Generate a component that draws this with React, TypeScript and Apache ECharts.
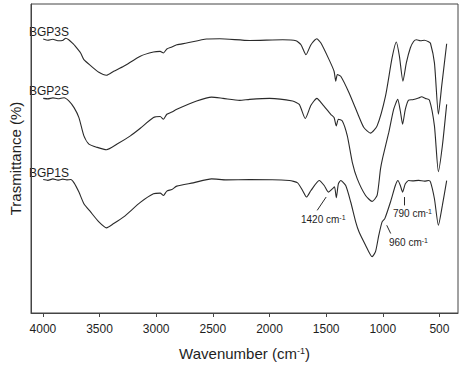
import React, { useEffect, useRef } from "react";
import * as echarts from "echarts";

// Wavenumber ticks (cm-1)
const xTicks = [4000, 3500, 3000, 2500, 2000, 1500, 1000, 500];

// [wavenumber, transmittance (arbitrary, offset)]
const bgp3s: [number, number][] = [
  [3997, 275.7], [3956, 274.5], [3912, 275.5], [3868, 274], [3827, 274.3], [3798, 276.5], [3772, 275], [3739, 271.7],
  [3725, 270], [3667, 261.7], [3638, 255], [3579, 249], [3506, 242.3], [3439, 239.3], [3375, 243.3], [3287, 248.3],
  [3140, 258.5], [3024, 262.7], [2965, 263.3], [2936, 261.7], [2906, 265.7], [2862, 267.7], [2818, 270], [2731, 271.7],
  [2555, 275.7], [2439, 276], [2175, 274.3], [1883, 275], [1766, 274], [1722, 270], [1678, 260], [1634, 270],
  [1582, 276], [1546, 271.7], [1474, 255], [1430, 243.3], [1415, 233.3], [1401, 240], [1371, 238.3], [1298, 221.7],
  [1210, 197.5], [1167, 186.7], [1108, 181], [1050, 188.3], [976, 218.3], [918, 256.7], [880, 272.7], [853, 258.3],
  [822, 233.3], [792, 251.7], [757, 266.7], [728, 273.3], [702, 275], [667, 274], [632, 274.5], [596, 273],
  [579, 271.5], [544, 251.7], [509, 200], [480, 228.3], [436, 271],
];

const bgp2s: [number, number][] = [
  [3997, 216], [3956, 215.5], [3912, 216.5], [3868, 215.7], [3813, 216.7], [3769, 213.3], [3725, 206.7], [3682, 196.7],
  [3638, 178.3], [3594, 170], [3520, 166.7], [3439, 164.3], [3345, 170], [3228, 178.3], [3140, 186], [3024, 196.7],
  [2965, 197.7], [2936, 195], [2906, 200], [2862, 202.3], [2818, 205], [2643, 213.3], [2511, 217.3], [2410, 216],
  [2263, 214], [2175, 215], [2000, 216], [1796, 213.3], [1737, 210], [1684, 195.7], [1634, 209], [1582, 216],
  [1532, 210], [1459, 200], [1430, 196.7], [1410, 188.3], [1392, 195], [1357, 193.3], [1313, 178.3], [1269, 151.7],
  [1225, 135], [1152, 118.3], [1094, 112.3], [1050, 118.3], [1020, 145], [1000, 156.7], [947, 181.7], [904, 205],
  [868, 215], [845, 203.3], [825, 190], [801, 205], [772, 214.3], [737, 214.7], [684, 216.3], [658, 217.7],
  [623, 216], [588, 214.3], [544, 188.3], [509, 142.3], [474, 168.3], [436, 210],
];

const bgp1s: [number, number][] = [
  [3997, 134.3], [3956, 133.5], [3912, 135], [3868, 133.7], [3825, 134.7], [3789, 134], [3754, 134.3], [3725, 131],
  [3682, 121.7], [3638, 110], [3579, 101.7], [3506, 91.7], [3439, 85.7], [3375, 90], [3287, 96.7], [3140, 111.3],
  [3024, 120], [2965, 120.7], [2936, 118.3], [2906, 122.7], [2862, 124.3], [2818, 127.7], [2673, 131], [2511, 135],
  [2380, 134], [2175, 134.3], [1825, 133.3], [1752, 131], [1708, 123.3], [1673, 116.7], [1634, 123.3], [1561, 133.3],
  [1517, 128.3], [1480, 121.7], [1445, 125], [1426, 127], [1410, 116], [1392, 130], [1371, 133.3], [1327, 128.3],
  [1283, 111.7], [1239, 91.7], [1210, 81.7], [1152, 68.3], [1094, 56.7], [1064, 61.7], [1035, 78.3], [1006, 91.7],
  [982, 95], [932, 111.7], [889, 128.3], [866, 133.3], [845, 128.3], [825, 121.7], [801, 130], [772, 133.3],
  [737, 133], [684, 133.5], [632, 132.7], [596, 133.3], [579, 132], [544, 115], [509, 88.3], [474, 108.3], [436, 133.3],
];

// Annotation pointer segments [[w1, t1], [w2, t2]]
const pointer1420: [number, number][] = [[1579, 103.3], [1500, 116.7]];
const pointer790: [number, number][] = [[813, 116.7], [813, 108.3]];
const pointer960: [number, number][] = [[965, 88.3], [930, 80]];

const seriesNames = ["BGP3S", "BGP2S", "BGP1S"];

const FONT = "'Liberation Sans', Arial, Helvetica, sans-serif";
const LINE = "#2a2a2a";
const TEXT = "#1e1e1e";

export default function App() {
  const ref = useRef<HTMLDivElement>(null);
  useEffect(() => {
    document.body.style.margin = "0";
    if (!ref.current) return;
    const chart = echarts.init(ref.current, undefined, { renderer: "svg" });
    const seg = (p: [number, number][]) => [{ coord: p[0] }, { coord: p[1] }];
    const supRich = (size: number) => ({
      sup: { fontSize: size, verticalAlign: "top" as const, fontFamily: FONT, color: TEXT },
    });
    const lineSeries = (name: string, data: [number, number][]) => ({
      name, type: "line", data, showSymbol: false, smooth: 0.2, lineStyle: { color: LINE, width: 1.1 },
    });
    chart.setOption({
      animation: false,
      backgroundColor: "#ffffff",
      grid: { left: 28, top: 4, right: 5, bottom: 51, show: true, borderColor: "#444", borderWidth: 1 },
      xAxis: {
        type: "value",
        inverse: true,
        min: 336,
        max: 4105,
        name: "Wavenumber (cm{sup|-1})",
        nameLocation: "middle",
        nameGap: 33,
        nameTextStyle: { fontSize: 15, fontFamily: FONT, color: TEXT, rich: supRich(9) },
        axisLine: { show: true, lineStyle: { color: "#444", width: 1 } },
        axisTick: { show: true, length: 4, inside: false, customValues: xTicks, lineStyle: { color: "#444" } },
        axisLabel: {
          customValues: xTicks, fontSize: 12, fontFamily: FONT, color: TEXT, margin: 10,
          formatter: (v: number) => String(v),
        },
        splitLine: { show: false },
      },
      yAxis: {
        type: "value",
        min: 0,
        max: 311,
        name: "Trasmittance (%)",
        nameLocation: "middle",
        nameRotate: 90,
        nameGap: 8,
        nameTextStyle: { fontSize: 15, fontFamily: FONT, color: TEXT },
        axisLine: { show: true, lineStyle: { color: "#444" } },
        axisTick: { show: false },
        axisLabel: { show: false },
        splitLine: { show: false },
      },
      series: [
        lineSeries(seriesNames[0], bgp3s),
        lineSeries(seriesNames[1], bgp2s),
        {
          ...lineSeries(seriesNames[2], bgp1s),
          markLine: {
            silent: true,
            symbol: ["none", "none"],
            label: { show: false },
            lineStyle: { color: LINE, width: 1, type: "solid" },
            data: [seg(pointer1420), seg(pointer790), seg(pointer960)],
          },
        },
      ],
      graphic: [
        { type: "text", x: 29, y: 32, style: { text: seriesNames[0], font: `12px ${FONT}`, fill: TEXT, verticalAlign: "middle" } },
        { type: "text", x: 29, y: 91, style: { text: seriesNames[1], font: `12px ${FONT}`, fill: TEXT, verticalAlign: "middle" } },
        { type: "text", x: 29, y: 173, style: { text: seriesNames[2], font: `12px ${FONT}`, fill: TEXT, verticalAlign: "middle" } },
        { type: "text", x: 301, y: 219, style: { text: "1420 cm{sup|-1}", fontSize: 10, fontFamily: FONT, fill: TEXT, verticalAlign: "middle", rich: supRich(7) } },
        { type: "text", x: 393, y: 213, style: { text: "790 cm{sup|-1}", fontSize: 10, fontFamily: FONT, fill: TEXT, verticalAlign: "middle", rich: supRich(7) } },
        { type: "text", x: 389, y: 242, style: { text: "960 cm{sup|-1}", fontSize: 10, fontFamily: FONT, fill: TEXT, verticalAlign: "middle", rich: supRich(7) } },
      ],
    });
    return () => chart.dispose();
  }, []);
  return <div ref={ref} style={{ width: 463, height: 366 }} />;
}
